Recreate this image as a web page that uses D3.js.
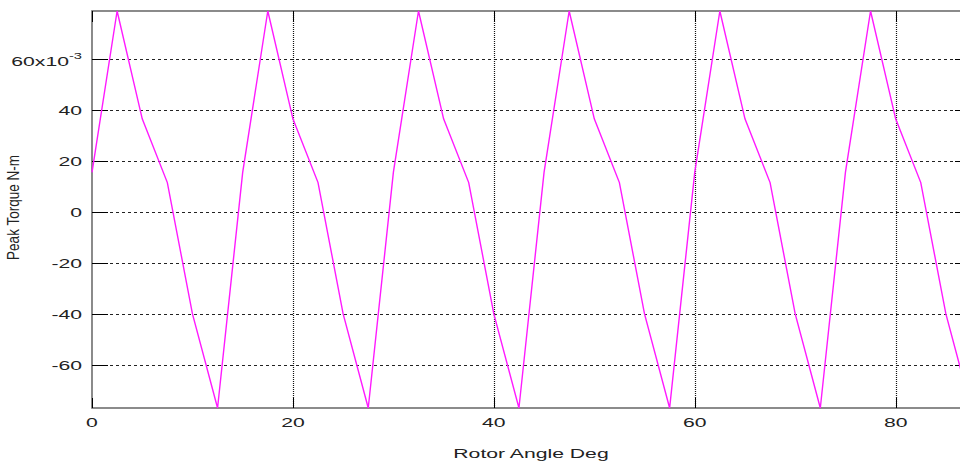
<!DOCTYPE html>
<html>
<head>
<meta charset="utf-8">
<script src="https://d3js.org/d3.v7.min.js"></script>
<style>
  body { margin: 0; background: #fff; }
  text { font-family: "Liberation Sans", Arial, sans-serif; }
</style>
</head>
<body>
<div id="chart"></div>
<script>
const angleDeg = [0, 2.5, 5, 7.5, 10, 12.5, 15, 17.5, 20, 22.5, 25, 27.5,
                  30, 32.5, 35, 37.5, 40, 42.5, 45, 47.5, 50, 52.5, 55, 57.5,
                  60, 62.5, 65, 67.5, 70, 72.5, 75, 77.5, 80, 82.5, 85, 87.5];
const torque = [0.0155, 0.0788, 0.0365, 0.0115, -0.0400, -0.0769,
                0.0155, 0.0788, 0.0365, 0.0115, -0.0400, -0.0769,
                0.0155, 0.0788, 0.0365, 0.0115, -0.0400, -0.0769,
                0.0155, 0.0788, 0.0365, 0.0115, -0.0400, -0.0769,
                0.0155, 0.0788, 0.0365, 0.0115, -0.0400, -0.0769,
                0.0155, 0.0788, 0.0365, 0.0115, -0.0400, -0.0769];
const xTicks = [0, 20, 40, 60, 80];
const yTicks = [-0.06, -0.04, -0.02, 0, 0.02, 0.04, 0.06];
const yTickLabels = ["-60", "-40", "-20", "0", "20", "40", "60x10"];

const width = 960;
const height = 462;
const margin = { top: 11, right: -11, bottom: 54, left: 92 };
const stretch = 1.63;

const svg = d3.select("#chart")
    .append("svg")
    .attr("width", width)
    .attr("height", height)
    .style("display", "block");

const x = d3.scaleLinear().domain([0, 87.5]).range([margin.left, width - margin.right]);
const y = d3.scaleLinear().domain([-0.0769, 0.0788]).range([height - margin.bottom, margin.top]);

const data = angleDeg.map((a, i) => ({ a: a, v: torque[i] }));

// grid
svg.append("g").selectAll("line").data(yTicks).join("line")
    .attr("x1", margin.left).attr("x2", width - margin.right)
    .attr("y1", d => Math.round(y(d)) + 0.5).attr("y2", d => Math.round(y(d)) + 0.5)
    .attr("stroke", "#222").attr("stroke-dasharray", "3,3");
svg.append("g").selectAll("line").data(xTicks.filter(d => d > 0)).join("line")
    .attr("x1", d => Math.round(x(d)) + 0.5).attr("x2", d => Math.round(x(d)) + 0.5)
    .attr("y1", margin.top).attr("y2", height - margin.bottom)
    .attr("stroke", "#111").attr("stroke-width", 1.2).attr("stroke-dasharray", "1,1");

// frame
const x0 = x.range()[0], x1 = x.range()[1], y0 = y.range()[0], y1 = y.range()[1];
svg.append("rect").attr("x", x0).attr("y", y1).attr("width", x1 - x0).attr("height", y0 - y1)
    .attr("fill", "none").attr("stroke", "#6e6e6e").attr("stroke-width", 1.6);

// ticks
const ticksG = svg.append("g").attr("stroke", "#000").attr("stroke-width", 1);
yTicks.forEach(d => {
    const yy = Math.round(y(d)) + 0.5;
    ticksG.append("line").attr("x1", x0).attr("x2", x0 + 16).attr("y1", yy).attr("y2", yy);
    ticksG.append("line").attr("x1", x1 - 16).attr("x2", x1).attr("y1", yy).attr("y2", yy);
});
xTicks.forEach(d => {
    const xx = Math.round(x(d)) + 0.5;
    ticksG.append("line").attr("x1", xx).attr("x2", xx).attr("y1", y0).attr("y2", y0 - 10);
    ticksG.append("line").attr("x1", xx).attr("x2", xx).attr("y1", y1).attr("y2", y1 + 11);
});

// data line
svg.append("path").datum(data)
    .attr("fill", "none").attr("stroke", "#ff1aff").attr("stroke-width", 1.4)
    .attr("d", d3.line().x(d => x(d.a)).y(d => y(d.v)));

// tick labels
yTicks.forEach((d, i) => {
    const t = svg.append("text")
        .attr("transform", `translate(82,${y(d) + (i === yTicks.length - 1 ? 7.5 : 5)}) scale(${stretch},1)`)
        .attr("text-anchor", "end").attr("font-size", 13).attr("fill", "#222")
        .text(yTickLabels[i]);
    if (i === yTicks.length - 1) {
        t.append("tspan").attr("font-size", 9).attr("dy", -7).text("-3");
    }
});
xTicks.forEach(d => {
    svg.append("text")
        .attr("transform", `translate(${x(d)},427) scale(${stretch},1)`)
        .attr("text-anchor", "middle").attr("font-size", 13).attr("fill", "#222")
        .text(d);
});

// axis titles
svg.append("text")
    .attr("transform", `translate(531,458) scale(${stretch},1)`)
    .attr("text-anchor", "middle").attr("font-size", 13).attr("fill", "#222")
    .text("Rotor Angle Deg");
svg.append("text")
    .attr("transform", "translate(18.5,207.5) rotate(-90) scale(1,1.2)")
    .attr("text-anchor", "middle").attr("font-size", 13.5).attr("fill", "#222")
    .text("Peak Torque N-m");
</script>
</body>
</html>
